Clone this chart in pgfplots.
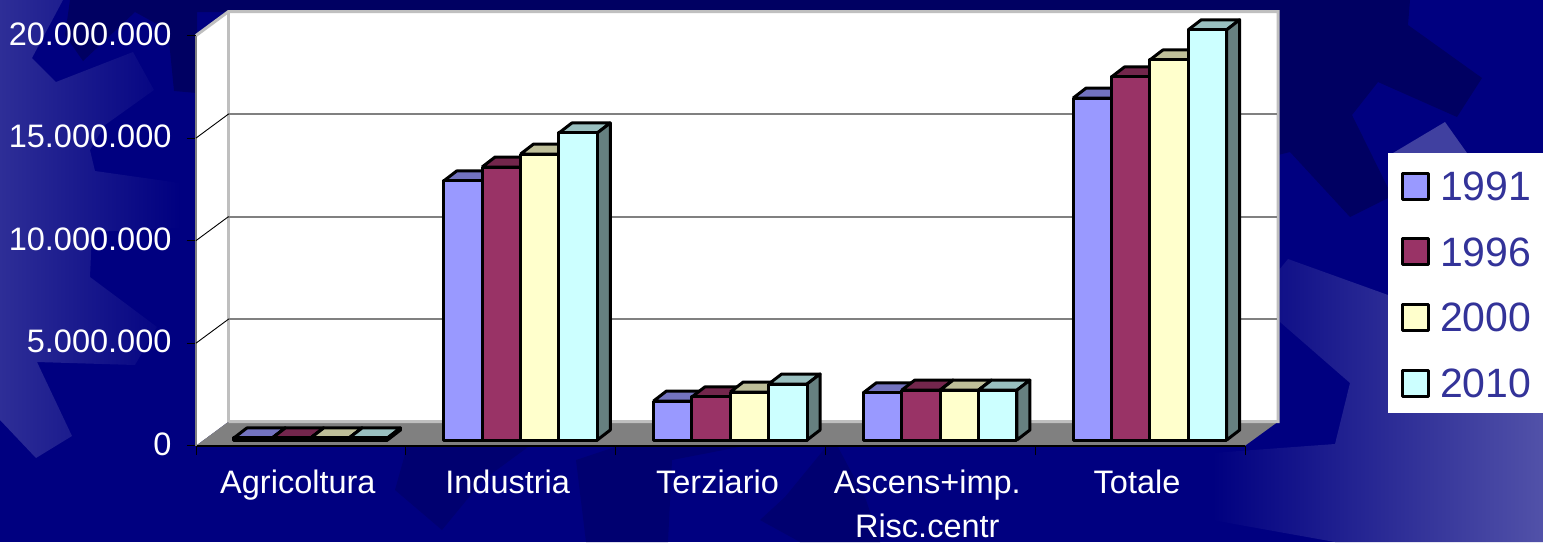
\documentclass[border=0pt]{standalone}
\usepackage{fontspec}
\setmainfont{Liberation Sans}
\usepackage{pgfplots}
\usepackage{pgfplotstable}
\pgfplotsset{compat=1.18}

\definecolor{c91}{HTML}{9999FF}
\definecolor{c96}{HTML}{993366}
\definecolor{c00}{HTML}{FFFFCC}
\definecolor{c10}{HTML}{CCFFFF}
\definecolor{navy}{HTML}{000080}
\definecolor{darknavy}{HTML}{000062}
\definecolor{midnavy}{HTML}{000070}
\definecolor{legendtext}{HTML}{333399}

% values per category
\pgfplotstableread{
cat y1991    y1996    y2000    y2010
0   100000   100000   100000   100000
1   12630000 13310000 13940000 14970000
2   1900000  2100000  2340000  2730000
3   2300000  2430000  2430000  2430000
4   16670000 17700000 18530000 20000000
}\chartdata

% depth faces of a bar, dx and dy in pt
\pgfplotstableread{
dx   dy top
0    0  1
13   10 1
51.4 10 1
38.4 0  1
0    0  1
}\topface
\pgfplotstableread{
dx   dy top
38.4 0  0
51.4 10 0
51.4 10 1
38.4 0  1
38.4 0  0
}\sideface

\newcommand{\barfaces}[4]{%
  \pgfplotsinvokeforeach{0,...,4}{%
    \pgfplotstablegetelem{##1}{#1}\of\chartdata
    \let\barval\pgfplotsretval
    \addplot[forget plot,fill=#3,draw=black,line width=3pt,line join=round,xshift=#2pt,yshift=5.7pt]
      table[x expr={##1+\thisrow{dx}/209.8},y expr={\thisrow{dy}*48754+\thisrow{top}*\barval}]{\topface};
    \addplot[forget plot,fill=#4,draw=black,line width=3pt,line join=round,xshift=#2pt,yshift=5.7pt]
      table[x expr={##1+\thisrow{dx}/209.8},y expr={\thisrow{dy}*48754+\thisrow{top}*\barval}]{\sideface};
  }%
}
\newcommand{\barfront}[3]{%
  \addplot[forget plot,ybar,bar width=38.4pt,bar shift=#2pt,fill=#3,draw=black,line width=3pt,line join=round,yshift=5.7pt]
    table[x=cat,y=#1]{\chartdata};
}

\begin{document}
\begin{tikzpicture}

% slide background and chart walls, in pixels from the top left
\begin{scope}[x=1pt,y=-1pt]
  \fill[navy] (0,0) rectangle (1543,542);
  \fill[darknavy] (70,0) -- (65,35) -- (83,61) -- (135,12) -- (168,30) -- (174,91) -- (197,93) -- (197,12) -- (1278,12) -- (1278,155) -- (1290,152) -- (1350,217) -- (1392,196) -- (1352,115) -- (1378,82) -- (1457,117) -- (1482,78) -- (1408,25) -- (1410,0) -- cycle;
  \shade[left color=navy!82!white,right color=navy]
    (0,0) -- (63,0) -- (32,58) -- (56,82) -- (133,52) -- (154,90) -- (105,125) -- (90,150) -- (95,171) -- (180,183) -- (180,228) -- (92,232) -- (90,277) -- (157,327) -- (135,365) -- (37,362) -- (72,436) -- (36,458) -- (0,420) -- cycle;
  \shade[left color=navy,right color=navy!68!white]
    (1288,259) -- (1388,295) -- (1543,295) -- (1543,542) -- (1335,542) -- (1212,520) -- (1212,453) -- (1335,444) -- (1350,383) -- (1280,322) -- (1279,270) -- cycle;
  \fill[navy!75!white] (1393,153) -- (1445,122) -- (1467,153) -- cycle;
  \fill[midnavy] (407,447) -- (395,490) -- (442,530) -- (483,480) -- (528,447) -- cycle;
  \fill[midnavy] (576,460) -- (586,542) -- (668,542) -- (672,460) -- (739,447) -- (615,447) -- cycle;
  \fill[midnavy] (760,520) -- (785,497) -- (826,447) -- (838,447) -- (866,500) -- (880,542) -- (800,542) -- cycle;

  % legend panel
  \fill[white] (1388,152.7) rectangle (1543,412.7);

  % walls and floor
  \fill[white] (228.5,11.5) rectangle (1278,421.7);
  \fill[white] (196,35.5) -- (228.5,11.5) -- (228.5,421.7) -- (196,445.7) -- cycle;
  \fill[gray] (196,445.7) -- (228.5,421.7) -- (1278,421.7) -- (1245,445.7) -- cycle;
  \draw[black!25,line width=3pt,line join=miter] (196,35.5) -- (228.5,11.5) -- (1278,11.5) -- (1278,421.7) -- (228.5,421.7);
  \draw[black!25,line width=3pt] (228.5,11.5) -- (228.5,421.7);
\end{scope}

\begin{axis}[
    at={(196pt,-445.7pt)},anchor=south west,
    scale only axis,
    width=1049pt,height=410.2pt,
    clip=false,
    xmin=-0.5,xmax=4.5,
    ymin=0,ymax=20000000,
    axis x line*=bottom,
    axis y line*=left,
    x axis line style={-,black,line width=1.6pt},
    y axis line style={-,gray,line width=2.6pt},
    xtick={0,1,2,3,4},
    xticklabels={Agricoltura,Industria,Terziario,{Ascens+imp.\\Risc.centr},Totale},
    minor xtick={-0.5,0.5,1.5,2.5,3.5,4.5},
    ytick={0,5000000,10000000,15000000,20000000},
    scaled y ticks=false,
    /pgf/number format/.cd,fixed,precision=0,1000 sep={.},assume math mode=true,
    /pgfplots/.cd,
    tick align=outside,
    major tick length=9pt,
    minor tick length=9pt,
    major x tick style={draw=none},
    minor x tick style={black,line width=0.9pt},
    ytick style={black,line width=0.9pt},
    tick label style={white,font=\fontsize{32.5}{44}\selectfont},
    xticklabel style={align=center,xshift=-3pt,yshift=-12pt},
    yticklabel style={xshift=-12pt,yshift=1.5pt},
    legend image code/.code={\path[draw=none,fill=none] (-2pt,0pt) -- (36pt,0pt);\draw[#1,line width=3pt,line join=round] (0pt,-13pt) rectangle (26pt,13pt);},
    legend cell align=left,
    legend style={at={(1.1382,0.7167)},anchor=north west,draw=none,fill=none,
      inner xsep=10pt,inner ysep=18pt,row sep=33pt,
      nodes={inner sep=2pt,text depth=0pt},
      font=\fontsize{41}{41}\selectfont,text=legendtext},
    legend entries={1991,1996,2000,2010},
]
\addlegendimage{fill=c91}
\addlegendimage{fill=c96}
\addlegendimage{fill=c00}
\addlegendimage{fill=c10}

% back wall grid lines and their joins on the side wall
\pgfplotsinvokeforeach{5000000,10000000,15000000}{
  \draw[gray,line width=2pt] ([xshift=32.5pt,yshift=24pt]axis cs:-0.5,#1) -- ([xshift=32.5pt,yshift=24pt]axis cs:4.5,#1);
  \draw[black,line width=0.9pt] (axis cs:-0.5,#1) -- ([xshift=32.5pt,yshift=24pt]axis cs:-0.5,#1);
}

\barfaces{y1991}{-67}{c91!75!black}{c91!50!black}
\barfront{y1991}{-47.8}{c91}
\barfaces{y1996}{-28.6}{c96!75!black}{c96!50!black}
\barfront{y1996}{-9.4}{c96}
\barfaces{y2000}{9.8}{c00!75!black}{c00!50!black}
\barfront{y2000}{29}{c00}
\barfaces{y2010}{48.2}{c10!75!black}{c10!50!black}
\barfront{y2010}{67.4}{c10}
\end{axis}
\pgfresetboundingbox
\path (0pt,0pt) rectangle (1543pt,-542pt);
\end{tikzpicture}
\end{document}
